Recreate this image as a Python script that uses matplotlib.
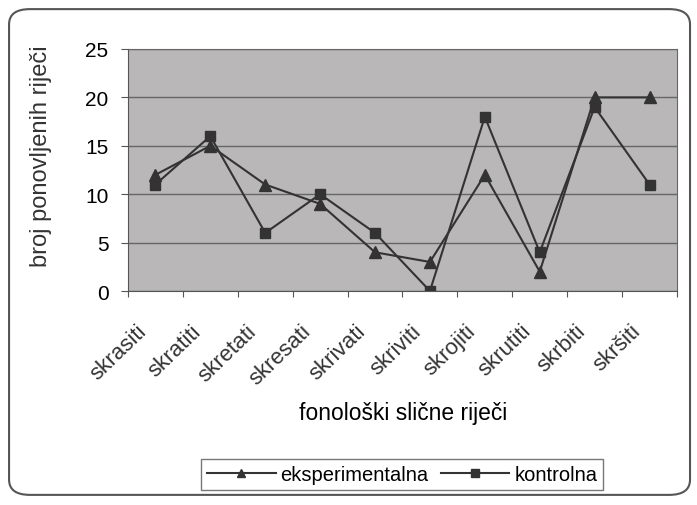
import matplotlib.pyplot as plt
from matplotlib.patches import FancyBboxPatch

categories = ["skrasiti", "skratiti", "skretati", "skresati", "skrivati",
              "skriviti", "skrojiti", "skrutiti", "skrbiti", "skršiti"]
eksperimentalna = [12, 15, 11, 9, 4, 3, 12, 2, 20, 20]
kontrolna = [11, 16, 6, 10, 6, 0, 18, 4, 19, 11]

plt.rcParams["font.family"] = ["Liberation Sans", "DejaVu Sans"]

fig = plt.figure(figsize=(6.97, 5.06), dpi=100)

# rounded frame around the whole chart
frame = FancyBboxPatch((0.013, 0.02), 0.977, 0.96, boxstyle="round,pad=0,rounding_size=0.03",
                       transform=fig.transFigure, facecolor="white", edgecolor="#555555",
                       linewidth=1.5, zorder=-10)
fig.patches.append(frame)

ax = fig.add_axes([0.1836, 0.4229, 0.7877, 0.4783])
ax.set_facecolor("#b9b7b7")

x = list(range(len(categories)))
ax.plot(x, eksperimentalna, color="#333333", linewidth=1.5, marker="^",
        markersize=8.5, label="eksperimentalna")
ax.plot(x, kontrolna, color="#333333", linewidth=1.5, marker="s",
        markersize=7.5, label="kontrolna")

ax.set_xlim(-0.5, len(categories) - 0.5)
ax.set_ylim(0, 25)
ax.set_yticks([0, 5, 10, 15, 20, 25])
ax.set_xticks([i - 0.5 for i in range(len(categories) + 1)])
ax.set_xticklabels([])
ax.tick_params(axis="x", length=4, color="#555555")
ax.tick_params(axis="y", labelsize=15, length=5, pad=9, color="#555555")

# slanted category labels, placed under each category like the original
for i, name in enumerate(categories):
    ax.annotate(name, xy=(i, 0), xycoords=("data", "axes fraction"),
                xytext=(-14, -21), textcoords="offset points",
                ha="right", va="top", rotation=44, rotation_mode="anchor",
                fontsize=16, color="#333333")

ax.yaxis.grid(True, color="#666666", linewidth=1)
ax.set_axisbelow(True)

for side in ["top", "right"]:
    ax.spines[side].set_color("#666666")
ax.spines["left"].set_color("#555555")
ax.spines["bottom"].set_color("#555555")

ax.set_ylabel("broj ponovljenih riječi", fontsize=17, color="#333333")
ax.yaxis.set_label_coords(-0.138, 0.562)
fig.text(0.578, 0.183, "fonološki slične riječi", fontsize=16.5, ha="center", va="center")

leg = fig.legend(loc="center", bbox_to_anchor=(0.577, 0.061), ncol=2, fontsize=14.5,
                 frameon=True, fancybox=False, edgecolor="#555555",
                 handlelength=3.4, handletextpad=0.25, columnspacing=0.6,
                 borderpad=0.3, borderaxespad=0, markerscale=0.75)
leg.get_frame().set_linewidth(1)

fig.savefig("out.png", dpi=100)
